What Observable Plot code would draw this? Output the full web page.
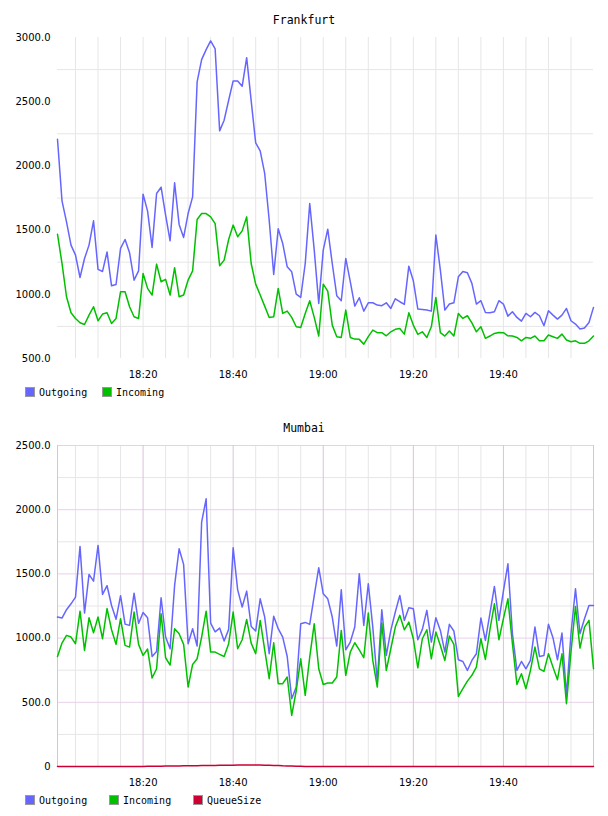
<!DOCTYPE html>
<html><head><meta charset="utf-8">
<script src="https://cdn.jsdelivr.net/npm/d3@7"></script>
<script src="https://cdn.jsdelivr.net/npm/@observablehq/plot@0.6"></script>
<style>
body{margin:0;background:#fff;width:608px;height:816px;position:relative;overflow:hidden}
.title{position:absolute;left:0;width:608px;text-align:center;font:11.5px "DejaVu Sans Mono",monospace;line-height:14px;color:#000}
.chart{position:absolute;left:0;width:608px}
.legend{position:absolute;left:0;width:608px;height:14px;font:10px "DejaVu Sans Mono",monospace;color:#000}
.item{position:absolute;top:0;height:14px;display:flex;align-items:center;white-space:nowrap}
.sw{width:8px;height:8px;border:1px solid #999;margin-right:4px}
</style></head><body>
<div class="title" style="top:13px">Frankfurt</div>
<div class="chart" id="fra" style="top:27px"></div>
<div class="legend" id="fraLegend" style="top:385px"></div>
<div class="title" style="top:421px">Mumbai</div>
<div class="chart" id="mum" style="top:435px"></div>
<div class="legend" id="mumLegend" style="top:793px"></div>
<script>
// ---- data (one value per minute, starting 18:01) ----
const startTime = "18:01";
const fraOutgoing = [2208,1728,1564,1383,1305,1131,1279,1383,1572,1194,1178,1330,1066,1077,1357,1427,1323,1110,1183,1780,1648,1365,1785,1834,1616,1417,1868,1544,1443,1629,1759,2654,2828,2906,2973,2911,2273,2356,2511,2662,2662,2620,2843,2506,2179,2117,1941,1577,1155,1510,1396,1214,1175,1001,976,1240,1707,1344,929,1344,1507,
1240,989,950,1279,1098,908,973,869,934,934,916,911,934,890,965,942,921,1219,1105,885,882,877,869,1461,1188,877,924,934,1136,1178,1168,1085,924,950,859,856,864,950,924,830,864,820,791,851,825,859,833,755,872,838,807,838,890,794,768,729,737,781,898];
const fraIncoming = [1468,1240,981,856,812,778,765,838,903,794,846,856,773,812,1020,1020,903,825,812,1162,1046,994,1235,1098,1116,994,1207,981,994,1111,1183,1583,1629,1629,1603,1551,1222,1266,1427,1539,1448,1494,1603,1240,1079,994,908,820,825,1046,851,869,820,747,742,851,950,820,675,1079,1025,
760,670,664,877,664,651,649,612,670,721,701,701,677,708,727,734,690,856,760,688,708,664,747,976,701,675,714,675,851,812,833,778,708,747,657,675,695,703,701,677,675,664,638,664,657,675,638,638,683,670,657,690,644,631,638,618,618,638,675];
const mumOutgoing = [1164,1156,1221,1267,1319,1714,1195,1496,1444,1722,1340,1408,1254,1146,1330,1109,1099,1350,1114,1200,1158,857,896,1314,1008,917,1410,1696,1574,956,1073,938,1903,2085,1117,1049,1078,977,1068,1703,1376,1242,1366,1091,1055,1306,1164,878,1171,1073,1008,857,528,619,1112,1122,1107,1330,1548,1345,1306,
1164,938,1376,909,969,1086,1501,1099,1423,1086,658,1221,865,1060,1203,1332,1138,1236,1229,987,1068,1216,969,1158,1060,891,1107,1055,831,818,748,826,878,1156,982,1190,1402,1138,1366,1579,1034,748,818,761,826,1086,857,865,1107,1003,831,1039,554,1034,1384,1034,1151,1254,1254];
const mumIncoming = [857,961,1021,1008,956,1210,904,1158,1042,1164,995,1230,1065,951,1151,943,930,1203,951,865,915,689,761,1190,847,790,1073,1034,951,619,795,839,1008,1210,891,891,873,857,956,1203,917,987,1145,961,878,1138,909,684,964,645,645,697,398,590,839,554,852,1112,761,639,650,
650,697,1060,710,891,964,909,847,1195,826,619,1117,748,917,1086,1177,1065,1125,995,769,995,1065,839,1047,943,826,1016,951,546,606,665,710,774,995,834,1065,1267,987,1151,1306,956,639,723,606,748,930,761,741,878,774,676,878,489,891,1247,922,1086,1138,761];
const mumQueueSize = [0,0,0,0,0,0,0,0,0,0,0,0,0,0,0,0,0,0,0,0,
1,1,2,2,3,3,4,4,5,5,6,6,7,7,8,8,9,9,10,10,11,11,12,12,12,11,10,9,8,7,5,4,3,2,1,0,
0,0,0,0,0,0,0,0,0,0,0,0,0,0,0,0,
0,0,0,0,0,0,0,0,0,0,0,0,0,0,0,0,
0,0,0,0,0,0,0,0,0,0,0,0,0,0,0,0,
0,0,0,0,0,0,0,0,0,0,0,0,0,0,0,0];
const xTickLabels = ["18:20","18:40","19:00","19:20","19:40"];
const minorTimes = ["18:05","18:10","18:15","18:25","18:30","18:35","18:45","18:50","18:55","19:05","19:10","19:15","19:25","19:30","19:35","19:45","19:50","19:55"];
const fraYTicks = [500,1000,1500,2000,2500,3000];
const fraYGrid = [750,1250,1750,2250,2750];
const mumYTicks = [0,500,1000,1500,2000,2500];
const mumYGrid = [250,750,1250,1750,2250];
const seriesNames = ["Outgoing","Incoming","QueueSize"];
const seriesColors = ["#6666ff","#00c000","#cc0033"];

// ---- helpers ----
const toDate = s => { const [h,m] = s.split(":").map(Number); return new Date(Date.UTC(2024,0,1,h,m)); };
const t0 = toDate(startTime);
const timeAt = i => new Date(+t0 + i*60000);
const rows = arr => arr.map((v,i) => ({time: timeAt(i), value: v}));
const tEnd = timeAt(fraOutgoing.length - 1);
const fmtY = d => d === 0 ? "0" : d.toFixed(1);
const GRAY = "#e6e6e6", PINK_H = "#e8d0e8", PINK_V = "#dcc0dc";

function base(yDomain, yTicks, marks) {
  return Plot.plot({
    width: 608, height: 357,
    marginLeft: 57, marginRight: 15, marginTop: 10, marginBottom: 26,
    style: {fontFamily: "'DejaVu Sans', sans-serif", fontSize: "10px", color: "#000", background: "transparent", overflow: "visible"},
    x: {type: "utc", domain: [t0, tEnd], ticks: xTickLabels.map(toDate), tickFormat: d3.utcFormat("%H:%M"), tickSize: 0, tickPadding: 12, label: null},
    y: {domain: yDomain, ticks: yTicks, tickFormat: fmtY, tickSize: 0, tickPadding: 7, label: null},
    marks
  });
}
const lineOpts = c => ({x: "time", y: "value", stroke: c, strokeWidth: 1.5, strokeLinejoin: "round"});

const fra = base([500, 3000], fraYTicks, [
  Plot.ruleX(minorTimes.concat(xTickLabels).map(toDate), {stroke: GRAY}),
  Plot.ruleY(fraYGrid, {stroke: GRAY}),
  Plot.line(rows(fraOutgoing), lineOpts(seriesColors[0])),
  Plot.line(rows(fraIncoming), lineOpts(seriesColors[1]))
]);
document.getElementById("fra").append(fra);

const mum = base([0, 2500], mumYTicks, [
  Plot.ruleX(minorTimes.map(toDate), {stroke: GRAY}),
  Plot.ruleY(mumYGrid, {stroke: GRAY}),
  Plot.ruleY(mumYTicks.filter(d => d > 0), {stroke: PINK_H}),
  Plot.ruleX([t0, tEnd].concat(xTickLabels.map(toDate)), {stroke: PINK_V}),
  Plot.line(rows(mumOutgoing), lineOpts(seriesColors[0])),
  Plot.line(rows(mumIncoming), lineOpts(seriesColors[1])),
  Plot.line(rows(mumQueueSize), lineOpts(seriesColors[2]))
]);
document.getElementById("mum").append(mum);

function legend(id, names, lefts) {
  const el = document.getElementById(id);
  names.forEach((n, i) => {
    const it = document.createElement("div");
    it.className = "item";
    it.style.left = lefts[i] + "px";
    it.innerHTML = `<span class="sw" style="background:${seriesColors[i]}"></span><span>${n}</span>`;
    el.append(it);
  });
}
legend("fraLegend", seriesNames.slice(0, 2), [25, 102]);
legend("mumLegend", seriesNames, [25, 109, 193]);
</script>
</body></html>
